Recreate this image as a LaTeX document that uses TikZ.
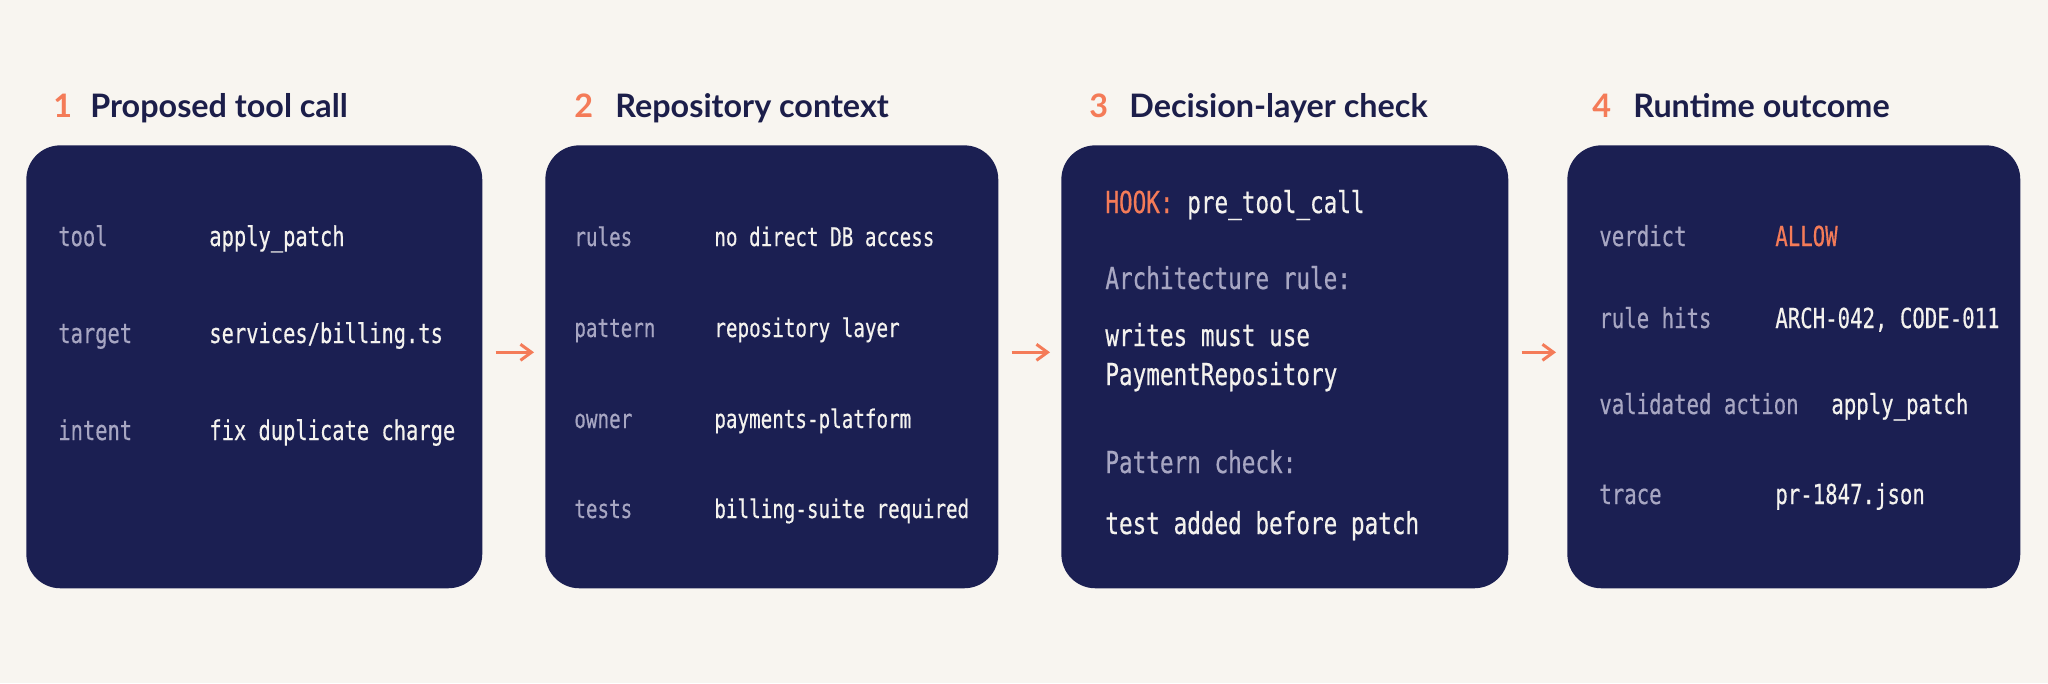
\documentclass[tikz,border=0pt]{standalone}
\usepackage{fontspec}
\setmainfont{Lato}
\newfontfamily\codefont{DejaVu Sans Mono}[FakeStretch=0.75, FakeBold=0.5]
\usetikzlibrary{arrows.meta}

\definecolor{paper}{HTML}{F8F5F0}
\definecolor{navy}{HTML}{1B1F52}
\definecolor{ink}{HTML}{1C1E4A}
\definecolor{accent}{HTML}{F47B58}
\definecolor{muted}{HTML}{A7A6C2}
\definecolor{bright}{HTML}{F4F2EE}

\tikzset{
  card/.style={fill=navy, rounded corners=0.68cm, anchor=north west, minimum height=8.86cm},
  title/.style={anchor=base west, inner sep=0, text=ink, font=\bfseries\fontsize{18.4}{22}\selectfont},
  num/.style={anchor=base west, inner sep=0, text=accent, font=\bfseries\fontsize{18.4}{22}\selectfont},
  key/.style={anchor=base west, inner sep=0, text=muted, font=\codefont\fontsize{#1}{18}\selectfont},
  key/.default=15.5,
  val/.style={anchor=base west, inner sep=0, text=bright, font=\codefont\fontsize{#1}{18}\selectfont},
  val/.default=15.5,
  flow/.style={-{Straight Barb[length=0.22cm, width=0.32cm]}, accent, line width=0.06cm, shorten <=0.26cm, shorten >=0.22cm}
}

\begin{document}
\begin{tikzpicture}[x=0.02cm, y=-0.02cm]
% Page
\fill[paper] (0,0) rectangle (2048,683);

% Step 1: proposed tool call
\node[num] (n1) at (53,117) {1};
\node[title] (t1) at (90,117) {Proposed tool call};
\node[card, minimum width=9.12cm] (box1) at (26,145) {};
\node[key] (k1a) at (58,246) {tool};
\node[val] (v1a) at (209,246) {apply\_patch};
\node[key] (k1b) at (58,343) {target};
\node[val] (v1b) at (209,343) {services/billing.ts};
\node[key] (k1c) at (58,440) {intent};
\node[val] (v1c) at (209,440) {fix duplicate charge};

% Step 2: repository context
\node[num] (n2) at (574,117) {2};
\node[title] (t2) at (615,117) {Repository context};
\node[card, minimum width=9.06cm] (box2) at (545,145) {};
\node[key=14.6] (k2a) at (574,246) {rules};
\node[val=14.6] (v2a) at (714,246) {no direct DB access};
\node[key=14.6] (k2b) at (574,337) {pattern};
\node[val=14.6] (v2b) at (714,337) {repository layer};
\node[key=14.6] (k2c) at (574,428) {owner};
\node[val=14.6] (v2c) at (714,428) {payments-platform};
\node[key=14.6] (k2d) at (574,518) {tests};
\node[val=14.6] (v2d) at (714,518) {billing-suite required};

% Step 3: decision-layer check
\node[num] (n3) at (1089,117) {3};
\node[title] (t3) at (1129,117) {Decision-layer check};
\node[card, minimum width=8.94cm] (box3) at (1061,145) {};
\node[val=17.2] (hook) at (1105,213) {\textcolor{accent}{HOOK:} pre\_tool\_call};
\node[key=17.2] (arch) at (1105,289) {Architecture rule:};
\node[val=17.2] (archa) at (1105,346) {writes must use};
\node[val=17.2] (archb) at (1105,385) {PaymentRepository};
\node[key=17.2] (patt) at (1105,473) {Pattern check:};
\node[val=17.2] (patta) at (1105,534) {test added before patch};

% Step 4: runtime outcome
\node[num] (n4) at (1592,117) {4};
\node[title] (t4) at (1633,117) {Runtime outcome};
\node[card, minimum width=9.06cm] (box4) at (1567,145) {};
\node[key=15.7] (k4a) at (1599,246) {verdict};
\node[val=15.7, text=accent] (v4a) at (1775,246) {ALLOW};
\node[key=15.7] (k4b) at (1599,328) {rule hits};
\node[val=15.7] (v4b) at (1775,328) {ARCH-042, CODE-011};
\node[key=15.7] (k4c) at (1599,414) {validated action};
\node[val=15.7] (v4c) at (1831,414) {apply\_patch};
\node[key=15.7] (k4d) at (1599,504) {trace};
\node[val=15.7] (v4d) at (1775,504) {pr-1847.json};

% Arrows between steps
\draw[flow] ([yshift=0.29cm]box1.east) -- ([yshift=0.29cm]box2.west);
\draw[flow] ([yshift=0.29cm]box2.east) -- ([yshift=0.29cm]box3.west);
\draw[flow] ([yshift=0.29cm]box3.east) -- ([yshift=0.29cm]box4.west);
\end{tikzpicture}
\end{document}
